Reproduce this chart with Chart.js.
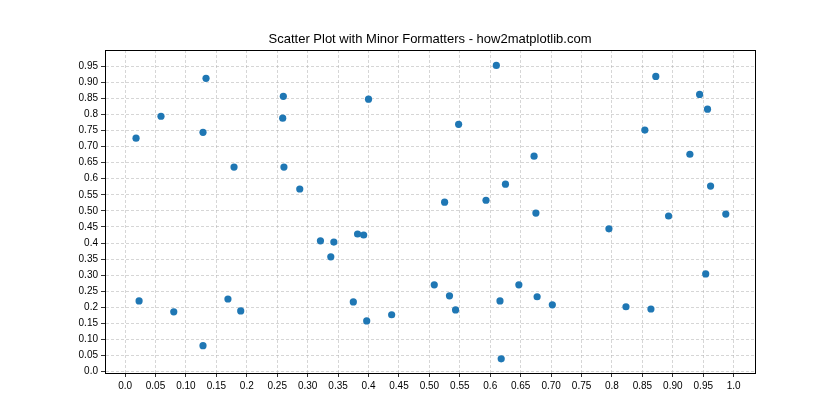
<!DOCTYPE html>
<html>
<head>
<meta charset="utf-8">
<script src="https://cdn.jsdelivr.net/npm/chart.js@4.4.0/dist/chart.umd.min.js"></script>
<style>
  html, body { margin: 0; padding: 0; background: #fff; }
  #wrap { width: 840px; height: 420px; }
</style>
</head>
<body>
<div id="wrap"><canvas id="chart" width="840" height="420"></canvas></div>
<script>
// values
const xValues = [0.133, 0.260, 0.059, 0.259, 0.128, 0.018, 0.179, 0.261, 0.287, 0.610,
  0.400, 0.548, 0.525, 0.593, 0.625, 0.872, 0.944, 0.957, 0.854, 0.672,
  0.928, 0.962, 0.675, 0.893, 0.987, 0.321, 0.023, 0.080, 0.169, 0.190,
  0.128, 0.343, 0.338, 0.382, 0.392, 0.375, 0.397, 0.438, 0.508, 0.533,
  0.543, 0.616, 0.618, 0.647, 0.795, 0.954, 0.677, 0.702, 0.823, 0.864];
const yValues = [0.912, 0.856, 0.794, 0.788, 0.744, 0.726, 0.636, 0.636, 0.568, 0.952,
  0.847, 0.769, 0.527, 0.533, 0.583, 0.918, 0.862, 0.816, 0.751, 0.670,
  0.676, 0.577, 0.493, 0.484, 0.490, 0.407, 0.220, 0.186, 0.226, 0.189,
  0.081, 0.403, 0.357, 0.428, 0.425, 0.217, 0.158, 0.177, 0.270, 0.236,
  0.192, 0.220, 0.040, 0.270, 0.444, 0.304, 0.233, 0.208, 0.202, 0.195];

// tick positions and their labels (major ones use one decimal)
const xTicks = [0, 0.05, 0.1, 0.15, 0.2, 0.25, 0.3, 0.35, 0.4, 0.45, 0.5, 0.55, 0.6, 0.65, 0.7, 0.75, 0.8, 0.85, 0.9, 0.95, 1.0];
const xTickLabels = ['0.0', '0.05', '0.10', '0.15', '0.2', '0.25', '0.30', '0.35', '0.4', '0.45', '0.50', '0.55', '0.6', '0.65', '0.70', '0.75', '0.8', '0.85', '0.90', '0.95', '1.0'];
const yTicks = [0, 0.05, 0.1, 0.15, 0.2, 0.25, 0.3, 0.35, 0.4, 0.45, 0.5, 0.55, 0.6, 0.65, 0.7, 0.75, 0.8, 0.85, 0.9, 0.95];
const yTickLabels = ['0.0', '0.05', '0.10', '0.15', '0.2', '0.25', '0.30', '0.35', '0.4', '0.45', '0.50', '0.55', '0.6', '0.65', '0.70', '0.75', '0.8', '0.85', '0.90', '0.95'];

const points = xValues.map((x, i) => ({ x: x, y: yValues[i] }));
const fontFamily = "'Liberation Sans', Arial, sans-serif";

// draws the top and right spines
const frame = {
  id: 'frame',
  afterDraw(chart) {
    const { ctx, chartArea: a } = chart;
    ctx.save();
    ctx.strokeStyle = '#000';
    ctx.lineWidth = 1;
    ctx.strokeRect(Math.round(a.left) + 0.5, Math.round(a.top) + 0.5,
      Math.round(a.right - a.left), Math.round(a.bottom - a.top));
    ctx.restore();
  }
};

new Chart(document.getElementById('chart'), {
  type: 'scatter',
  data: {
    datasets: [{
      data: points,
      backgroundColor: '#1f77b4',
      borderWidth: 0,
      pointRadius: 3.6,
      pointHoverRadius: 3.6
    }]
  },
  options: {
    responsive: false,
    animation: false,
    events: [],
    layout: { padding: { left: 20, right: 0, top: 0, bottom: 0 } },
    plugins: {
      legend: { display: false },
      tooltip: { enabled: false },
      title: {
        display: true,
        text: 'Scatter Plot with Minor Formatters - how2matplotlib.com',
        color: '#000',
        font: { family: fontFamily, size: 13, weight: 'normal' },
        padding: { top: 32, bottom: 2.4 }
      }
    },
    scales: {
      x: {
        type: 'linear',
        min: -0.033,
        max: 1.035,
        afterBuildTicks: s => { s.ticks = xTicks.map(v => ({ value: v })); },
        afterFit: s => { s.height = 47; },
        ticks: {
          autoSkip: false,
          maxRotation: 0,
          color: '#000',
          padding: 3,
          font: { family: fontFamily, size: 10 },
          callback: (v, i) => xTickLabels[i]
        },
        grid: {
          color: 'rgba(176,176,176,0.65)',
          lineWidth: 0.8,
          tickLength: 4,
          tickColor: '#000'
        },
        border: { display: true, color: '#000', width: 1, dash: [3, 2] }
      },
      y: {
        type: 'linear',
        min: -0.004,
        max: 1.0,
        afterBuildTicks: s => { s.ticks = yTicks.map(v => ({ value: v })); },
        afterFit: s => { s.width = 85; },
        ticks: {
          autoSkip: false,
          color: '#000',
          padding: 3,
          font: { family: fontFamily, size: 10 },
          callback: (v, i) => yTickLabels[i]
        },
        grid: {
          color: 'rgba(176,176,176,0.65)',
          lineWidth: 0.8,
          tickLength: 4,
          tickColor: '#000'
        },
        border: { display: true, color: '#000', width: 1, dash: [3, 2] }
      },
      // empty axis that only reserves the right margin
      spacer: {
        type: 'linear',
        position: 'right',
        display: true,
        afterFit: s => { s.width = 85; },
        ticks: { display: false },
        grid: { display: false, drawTicks: false },
        border: { display: false }
      }
    }
  },
  plugins: [frame]
});
</script>
</body>
</html>
